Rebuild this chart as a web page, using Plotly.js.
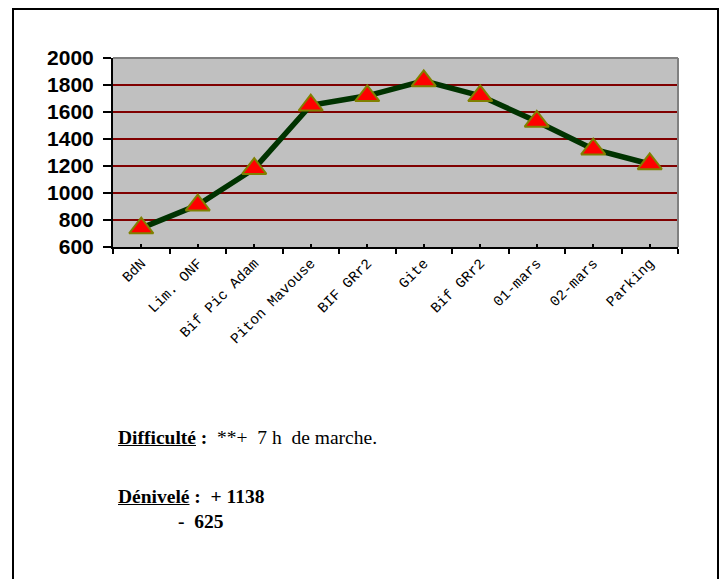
<!DOCTYPE html>
<html>
<head>
<meta charset="utf-8">
<script src="https://cdn.plot.ly/plotly-3.0.1.min.js"></script>
<style>
  html, body { margin: 0; padding: 0; background: #fff; }
  #page { position: relative; width: 724px; height: 579px; overflow: hidden; background: #fff; }
  #frame { position: absolute; left: 12px; top: 8px; width: 703px; height: 600px;
           border-left: 2px solid #000; border-top: 2px solid #000; border-right: 2px solid #000; }
  #chart { position: absolute; left: 0; top: 0; width: 724px; height: 400px; }
  .txt { position: absolute; font-family: "Liberation Serif", "Times New Roman", serif; font-size: 19.5px; color: #000; white-space: pre; }
  .b { font-weight: bold; }
  .u { text-decoration: underline; font-weight: bold; }
</style>
</head>
<body>
<div id="page">
  <div id="frame"></div>
  <div id="chart"></div>
  <div class="txt" style="left:118px; top:427px;"><span class="u">Difficulté</span><span class="b"> :</span>  **+  7 h  de marche.</div>
  <div class="txt b" style="left:118px; top:486px;"><span class="u">Dénivelé</span> :  + 1138</div>
  <div class="txt b" style="left:178px; top:511px;">-  625</div>
</div>
<script>
const categories = ["BdN", "Lim. ONF", "Bif Pic Adam", "Piton Mavouse", "BIF GRr2", "Gite", "Bif GRr2", "01-mars", "02-mars", "Parking"];
const altitudes = [740, 910, 1180, 1650, 1720, 1830, 1720, 1530, 1325, 1215];
const yTicks = [600, 800, 1000, 1200, 1400, 1600, 1800, 2000];

const trace = {
  x: categories,
  y: altitudes,
  type: "scatter",
  mode: "lines+markers",
  line: { color: "#003300", width: 5.5 },
  marker: { symbol: "triangle-up", size: 21, color: "#ff0000", line: { color: "#808000", width: 2 } },
  hoverinfo: "skip"
};
const centerTicks = {
  x: categories, y: altitudes, xaxis: "x2", type: "scatter", mode: "none", hoverinfo: "skip", showlegend: false
};

const layout = {
  width: 724, height: 400,
  margin: { l: 113, r: 46, t: 58, b: 153 },
  paper_bgcolor: "rgba(0,0,0,0)",
  plot_bgcolor: "#c0c0c0",
  showlegend: false,
  xaxis: {
    type: "category",
    range: [-0.5, 9.5],
    tickson: "boundaries",
    ticks: "outside", ticklen: 5, tickwidth: 2, tickcolor: "#000",
    showline: true, linecolor: "#000", linewidth: 2,
    showgrid: false, zeroline: false,
    tickangle: -45,
    tickfont: { family: "Liberation Mono, Courier New, monospace", size: 14.5, color: "#000" }
  },
  xaxis2: {
    type: "category", overlaying: "x", matches: "x", range: [-0.5, 9.5],
    ticks: "inside", ticklen: 3, tickwidth: 2, tickcolor: "#000",
    showticklabels: false, showgrid: false, showline: false, zeroline: false
  },
  yaxis: {
    range: [600, 2000],
    tickvals: yTicks,
    ticktext: yTicks.map(String),
    ticks: "outside", ticklen: 8, tickwidth: 2, tickcolor: "#000",
    ticklabelstandoff: 5,
    showline: true, linecolor: "#000", linewidth: 2,
    gridcolor: "#800000", gridwidth: 2,
    zeroline: false,
    tickfont: { family: "Liberation Sans, Arial, sans-serif", size: 21, color: "#000", weight: "bold" }
  },
  shapes: [
    { type: "line", xref: "paper", yref: "paper", x0: 0, x1: 1, y0: 1, y1: 1, line: { color: "#808080", width: 2 } },
    { type: "line", xref: "paper", yref: "paper", x0: 1, x1: 1, y0: 0, y1: 1, line: { color: "#808080", width: 2 } }
  ]
};

Plotly.newPlot("chart", [centerTicks, trace], layout, { staticPlot: true, displayModeBar: false });
</script>
</body>
</html>
